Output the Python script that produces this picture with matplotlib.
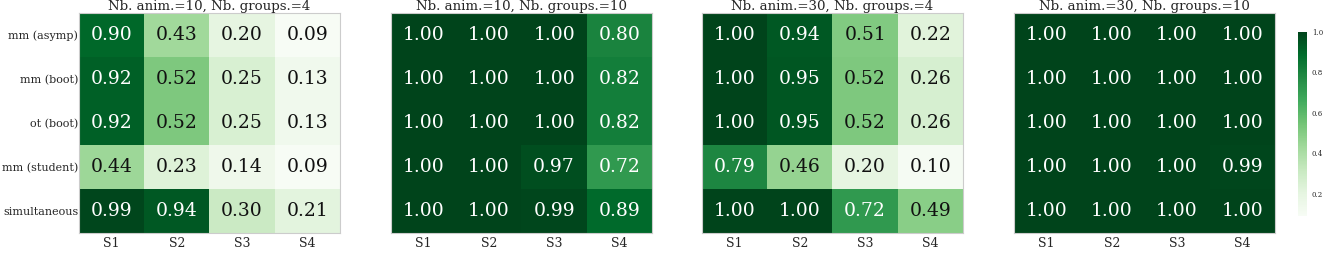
import numpy as np
import matplotlib.pyplot as plt

plt.rcParams['font.family'] = 'DejaVu Serif'

methods = ["mm (asymp)", "mm (boot)", "ot (boot)", "mm (student)", "simultaneous"]
scenarios = ["S1", "S2", "S3", "S4"]
titles = ["Nb. anim.=10, Nb. groups.=4", "Nb. anim.=10, Nb. groups.=10",
          "Nb. anim.=30, Nb. groups.=4", "Nb. anim.=30, Nb. groups.=10"]

power_10_4 = [[0.90, 0.43, 0.20, 0.09],
              [0.92, 0.52, 0.25, 0.13],
              [0.92, 0.52, 0.25, 0.13],
              [0.44, 0.23, 0.14, 0.09],
              [0.99, 0.94, 0.30, 0.21]]
power_10_10 = [[1.00, 1.00, 1.00, 0.80],
               [1.00, 1.00, 1.00, 0.82],
               [1.00, 1.00, 1.00, 0.82],
               [1.00, 1.00, 0.97, 0.72],
               [1.00, 1.00, 0.99, 0.89]]
power_30_4 = [[1.00, 0.94, 0.51, 0.22],
              [1.00, 0.95, 0.52, 0.26],
              [1.00, 0.95, 0.52, 0.26],
              [0.79, 0.46, 0.20, 0.10],
              [1.00, 1.00, 0.72, 0.49]]
power_30_10 = [[1.00, 1.00, 1.00, 1.00],
               [1.00, 1.00, 1.00, 1.00],
               [1.00, 1.00, 1.00, 1.00],
               [1.00, 1.00, 1.00, 0.99],
               [1.00, 1.00, 1.00, 1.00]]
tables = [power_10_4, power_10_10, power_30_4, power_30_10]

vmin, vmax = 0.09, 1.0
fig = plt.figure(figsize=(13.26, 2.54), dpi=100)
W, H = 1326, 254
lefts = [79, 391, 702, 1014]
aw = 261
for k, (left, tab, title) in enumerate(zip(lefts, tables, titles)):
    ax = fig.add_axes([left / W, 1 - 233 / H, aw / W, 220 / H])
    data = np.array(tab)
    im = ax.imshow(data, cmap="Greens", vmin=vmin, vmax=vmax, aspect="auto")
    for i in range(data.shape[0]):
        for j in range(data.shape[1]):
            v = data[i, j]
            ax.text(j, i, f"{v:.2f}", ha="center", va="center", fontsize=13.5,
                    color="white" if v > 0.6 else "#111111")
    ax.set_xticks(range(len(scenarios)))
    ax.set_xticklabels(scenarios, fontsize=9, color="#262626")
    if k == 0:
        ax.set_yticks(range(len(methods)))
        ax.set_yticklabels(methods, fontsize=8, color="#262626")
    else:
        ax.set_yticks([])
    ax.tick_params(axis="y", length=0, pad=0.5)
    ax.tick_params(axis="x", length=0, pad=3)
    ax.set_title(title, fontsize=9.6, pad=2, color="#262626")
    for s in ax.spines.values():
        s.set_color("#cccccc")

cax = fig.add_axes([1298 / W, 1 - 216 / H, 9 / W, 184 / H])
cb = fig.colorbar(im, cax=cax)
cb.set_ticks([0.2, 0.4, 0.6, 0.8, 1.0])
cb.ax.tick_params(labelsize=5, length=0, colors="#262626")
cb.outline.set_visible(False)

fig.savefig("out.png", dpi=100)
